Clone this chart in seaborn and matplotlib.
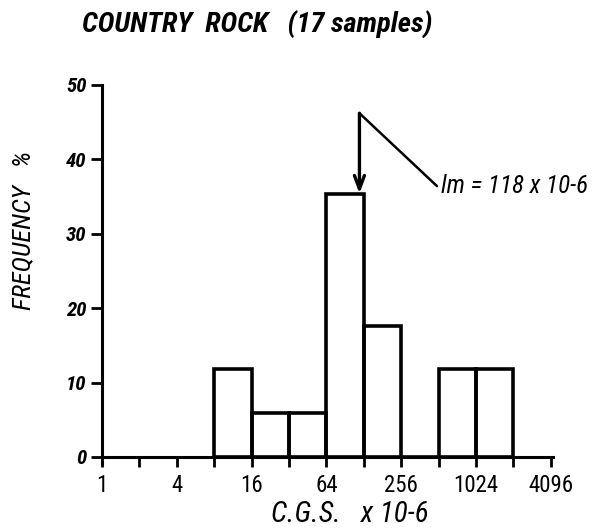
import numpy as np
import pandas as pd
import seaborn as sns
import matplotlib
matplotlib.use("Agg")
import matplotlib.pyplot as plt
from matplotlib import font_manager

# Susceptibility classes (C.G.S. x 10-6), octave-wide bins
bin_edges = [8, 16, 32, 64, 128, 256, 512, 1024, 2048]
sample_counts = [2, 1, 1, 6, 3, 0, 2, 2]
n_samples = 17
mean_value = 118

x_ticks = [1, 4, 16, 64, 256, 1024, 4096]
x_tick_labels = ["1", "4", "16", "64", "256", "1024", "4096"]
x_minor_ticks = [2, 8, 32, 128, 512, 2048]
y_ticks = [0, 10, 20, 30, 40, 50]

# the axis is laid out in octaves: position = log2(susceptibility)
edges_oct = [float(np.log2(e)) for e in bin_edges]
centres_oct = [(a + b) / 2 for a, b in zip(edges_oct[:-1], edges_oct[1:])]
percent = [100.0 * c / n_samples for c in sample_counts]
df = pd.DataFrame({"octave": centres_oct, "pct": percent})

sns.set_theme(style="white")
names = {f.name for f in font_manager.fontManager.ttflist}
prefs = ["DejaVu Sans Condensed", "Roboto Condensed", "Open Sans Condensed",
         "Liberation Sans Narrow", "DejaVu Sans"]
hand = next(p for p in prefs if p in names)
plt.rcParams["font.family"] = [hand, "DejaVu Sans"]
plt.rcParams["text.color"] = "black"

fig = plt.figure(figsize=(6.12, 5.29), dpi=100)
ax = fig.add_axes([0.1667, 0.1221, 0.7364, 0.7173])

sns.histplot(data=df, x="octave", weights="pct", bins=edges_oct,
             fill=False, element="bars", color="black",
             linewidth=2.6, ax=ax)

ax.set_xlim(0, 12.05)
ax.set_ylim(-1, 50)

for side in ("top", "right"):
    ax.spines[side].set_visible(False)
ax.spines["bottom"].set_position(("data", 0))
for side in ("left", "bottom"):
    ax.spines[side].set_linewidth(2.2)
    ax.spines[side].set_color("black")

ax.set_xticks([float(np.log2(t)) for t in x_ticks])
ax.set_xticklabels(x_tick_labels, fontsize=16.5)
ax.set_xticks([float(np.log2(t)) for t in x_minor_ticks], minor=True)
ax.set_yticks(y_ticks)
ax.set_yticklabels([str(v) for v in y_ticks], fontstyle="italic",
                   fontweight="bold", fontsize=15)
ax.tick_params(axis="x", which="both", direction="out", length=7, width=2,
               bottom=True, colors="black", pad=5)
ax.tick_params(axis="y", which="major", direction="out", length=8, width=2,
               left=True, colors="black", pad=3)
ax.set_xlabel("")
ax.set_ylabel("")

# mean marker with leader line to its label
m = float(np.log2(mean_value))
ax.annotate("", xy=(m, 35.4), xytext=(m, 46.2),
            arrowprops=dict(arrowstyle="->,head_length=0.8,head_width=0.3",
                            color="black", lw=2.4, shrinkA=0, shrinkB=0))
ax.plot([m, float(np.log2(497))], [46.2, 36.4], color="black", lw=1.8,
        clip_on=False)
ax.text(float(np.log2(540)), 36.4, "lm = 118 x 10-6", fontsize=18,
        fontstyle="italic", va="center", ha="left", color="black")

fig.text(0.42, 0.953, "COUNTRY  ROCK   (17 samples)", fontsize=20.5,
         fontstyle="italic", fontweight="bold", ha="center", va="center")
fig.text(0.038, 0.565, "FREQUENCY   %", fontsize=19, fontstyle="italic",
         rotation=90, ha="center", va="center")
fig.text(0.572, 0.028, "C.G.S.   x 10-6", fontsize=21, fontstyle="italic",
         ha="center", va="center")

fig.savefig("out.png", dpi=100, facecolor="white")
